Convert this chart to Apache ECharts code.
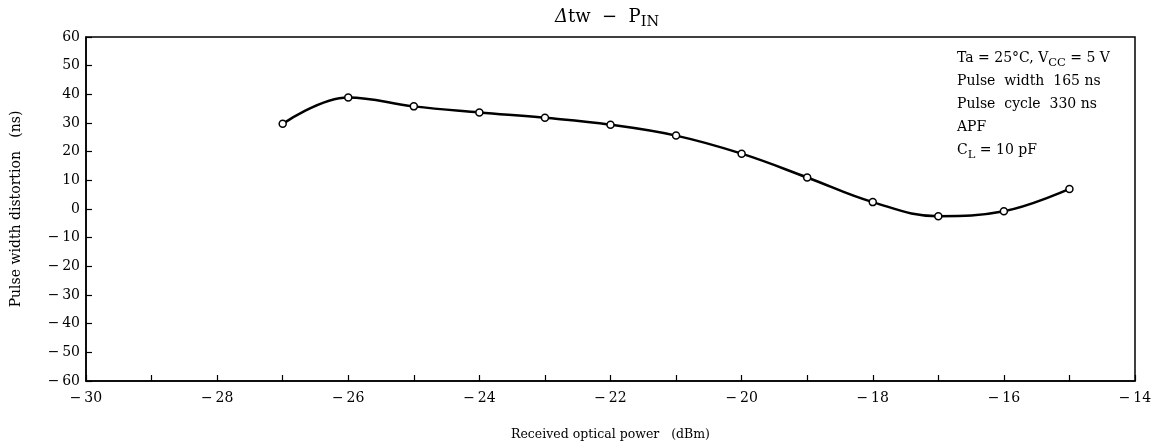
<!DOCTYPE html>
<html>
<head>
<meta charset="utf-8">
<script src="https://cdn.jsdelivr.net/npm/echarts@6/dist/echarts.min.js"></script>
<style>html,body{margin:0;padding:0;background:#fff}#c{width:1156px;height:446px}</style>
</head>
<body>
<div id="c"></div>
<script>
var powerDbm = [-27, -26, -25, -24, -23, -22, -21, -20, -19, -18, -17, -16, -15];
var distortionNs = [29.7, 38.9, 35.8, 33.7, 31.8, 29.4, 25.6, 19.3, 11.0, 2.4, -2.5, -0.8, 7.0];
var xTicks = [-30, -28, -26, -24, -22, -20, -18, -16, -14];
var yTicks = [-60, -50, -40, -30, -20, -10, 0, 10, 20, 30, 40, 50, 60];
var titleText = ['Δ', 'tw  −  P', 'IN'];
var conditions = ['Ta = 25°C, V|CC| = 5 V', 'Pulse  width  165 ns', 'Pulse  cycle  330 ns', 'APF', 'C|L| = 10 pF'];
var xName = 'Received optical power   (dBm)';
var yName = 'Pulse width distortion   (ns)';

var FONT = '"DejaVu Serif", "Liberation Serif", serif';
function minus(v){ return v < 0 ? '\u2212\u2009' + Math.abs(v) : String(v); }
function richLine(s){
  var parts = s.split('|');
  var out = '';
  parts.forEach(function(p, i){ out += (i % 2 === 1) ? '{s|' + p + '}' : '{n|' + p + '}'; });
  return out;
}
var richStyles = {
  n: {fontFamily: FONT, fontSize: 14, color: '#000', verticalAlign: 'bottom', lineHeight: 23},
  s: {fontFamily: FONT, fontSize: 11.5, color: '#000', verticalAlign: 'bottom', lineHeight: 23, padding: [0,0,-4,0]},
  d: {fontFamily: FONT, fontSize: 18, color: '#000', fontStyle: 'italic', fontWeight: 'normal', verticalAlign: 'bottom'},
  t: {fontFamily: FONT, fontSize: 18, color: '#000', fontWeight: 'normal', verticalAlign: 'bottom'},
  ts: {fontFamily: FONT, fontSize: 14.5, color: '#000', fontWeight: 'normal', verticalAlign: 'bottom', padding: [0,0,-4,0]}
};

var chart = echarts.init(document.getElementById('c'), null, {renderer: 'canvas'});
chart.setOption({
  animation: false,
  backgroundColor: '#fff',
  title: {
    text: '{d|' + titleText[0] + '}{t|' + titleText[1] + '}{ts|' + titleText[2] + '}',
    left: 550, top: 3,
    textStyle: {fontWeight: 'normal', rich: richStyles}
  },
  graphic: [{
    type: 'text', left: 957, top: 51,
    style: {
      text: conditions.map(richLine).join('\n'),
      rich: richStyles
    }
  }],
  grid: {left: 86, right: 21, top: 37, bottom: 61, show: true, borderColor: '#000', borderWidth: 1.5, backgroundColor: 'transparent'},
  xAxis: {
    type: 'value', min: xTicks[0], max: xTicks[xTicks.length-1], interval: 2,
    name: xName, nameLocation: 'middle', nameGap: 47,
    nameTextStyle: {fontFamily: FONT, fontSize: 12.5, color: '#000'},
    axisLine: {show: true, onZero: false, lineStyle: {color: '#000', width: 1.5}},
    axisTick: {show: true, inside: true, length: 6, lineStyle: {color: '#000', width: 1.2}},
    minorTick: {show: true, splitNumber: 2, length: 6, lineStyle: {color: '#000', width: 1.2}},
    splitLine: {show: false},
    axisLabel: {formatter: minus, fontFamily: FONT, fontSize: 14, color: '#000', margin: 10}
  },
  yAxis: {
    type: 'value', min: yTicks[0], max: yTicks[yTicks.length-1], interval: 10,
    name: yName, nameLocation: 'middle', nameGap: 63, nameRotate: 90,
    nameTextStyle: {fontFamily: FONT, fontSize: 14, color: '#000'},
    axisLine: {show: true, onZero: false, lineStyle: {color: '#000', width: 1.5}},
    axisTick: {show: true, inside: true, length: 6, lineStyle: {color: '#000', width: 1.2}},
    splitLine: {show: false},
    axisLabel: {formatter: minus, fontFamily: FONT, fontSize: 14, color: '#000', margin: 6}
  },
  series: [{
    type: 'line',
    data: powerDbm.map(function(x, i){ return [x, distortionNs[i]]; }),
    smooth: 0.4,
    symbol: 'circle', symbolSize: 7,
    itemStyle: {color: '#fff', borderColor: '#000', borderWidth: 1.5},
    lineStyle: {color: '#000', width: 2.5},
    z: 3
  }]
});
</script>
</body>
</html>
